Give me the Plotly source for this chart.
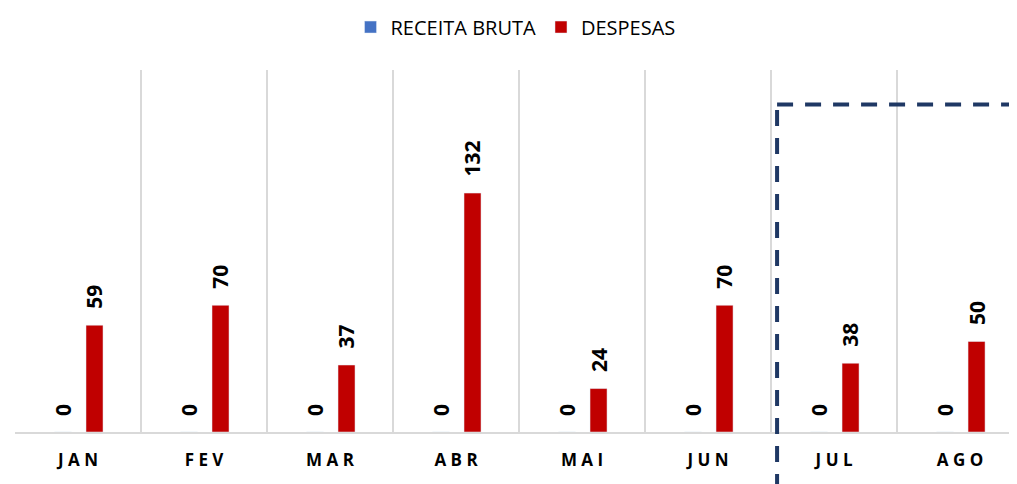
import plotly.graph_objects as go

# ---- data ----
categories = ["JAN", "FEV", "MAR", "ABR", "MAI", "JUN", "JUL", "AGO"]
receita_bruta = [0, 0, 0, 0, 0, 0, 0, 0]
despesas = [59, 70, 37, 132, 24, 70, 38, 50]
series_names = ["RECEITA BRUTA", "DESPESAS"]
highlight_start = "JUL"
highlight_level = 181

# ---- style ----
BLUE = "#4472C4"
RED = "#C00000"
NAVY = "#1F3864"
GRID = "#D9D9D9"
FONT = "Open Sans"
CAT_PX = 126.0          # pixel width of one category
BAR_W = 0.135
OFF_BLUE = -0.1865
OFF_RED = 0.0635
X_RANGE = [-0.5, 7.452]
W, H = 1009, 476        # page body adds an 8px margin

ticktext = [" ".join(list(c)) for c in categories]

fig = go.Figure()
fig.add_trace(go.Bar(x=categories, y=receita_bruta, name=series_names[0], marker_color=BLUE,
                     width=BAR_W, offset=OFF_BLUE))
fig.add_trace(go.Bar(x=categories, y=despesas, name=series_names[1], marker_color=RED,
                     width=BAR_W, offset=OFF_RED))

annotations = []
for series, off in ((receita_bruta, OFF_BLUE), (despesas, OFF_RED)):
    for c, v in zip(categories, series):
        annotations.append(dict(
            x=c, y=v, xref="x", yref="y", text=str(v), showarrow=False,
            textangle=-90, xanchor="center", yanchor="bottom",
            xshift=(off + BAR_W / 2) * CAT_PX, yshift=14,
            font=dict(family=FONT, size=21, color="#000000", weight="bold")))

hx = categories.index(highlight_start) - 0.452
shapes = [
    dict(type="line", xref="x", yref="y", x0=hx, x1=X_RANGE[1] + 0.2,
         y0=highlight_level, y1=highlight_level,
         line=dict(color=NAVY, width=4, dash="16px,12px")),
    dict(type="line", xref="x", yref="paper", x0=hx, x1=hx,
         y0=-0.16, y1=highlight_level / 200,
         line=dict(color=NAVY, width=4, dash="16px,12px")),
]

fig.update_layout(
    width=W, height=H,
    margin=dict(l=7, r=0, t=62, b=52),
    paper_bgcolor="white", plot_bgcolor="white",
    font=dict(family=FONT, color="#000000"),
    barmode="group",
    showlegend=True,
    legend=dict(orientation="h", xref="container", yref="container",
                x=0.503, xanchor="center", y=0.96, yanchor="middle",
                font=dict(family=FONT, size=20, color="#000000")),
    xaxis=dict(type="category", tickmode="array", tickvals=categories, ticktext=ticktext,
               range=X_RANGE, showgrid=True, gridcolor=GRID, gridwidth=2,
               tickson="boundaries", ticks="", showline=True, linecolor=GRID,
               linewidth=2, zeroline=False, ticklabelstandoff=12,
               tickfont=dict(family=FONT, size=17, color="#000000", weight="bold")),
    yaxis=dict(range=[0, 200], visible=False, showgrid=False, zeroline=False),
    annotations=annotations,
    shapes=shapes,
)

fig.write_html("out.html")
